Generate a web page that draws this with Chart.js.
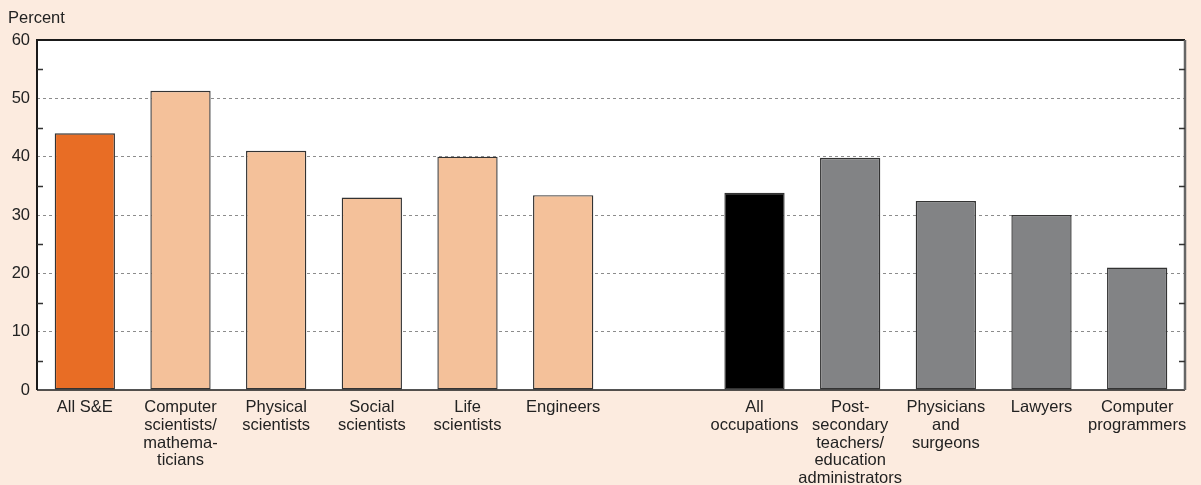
<!DOCTYPE html>
<html>
<head>
<meta charset="utf-8">
<script src="https://cdn.jsdelivr.net/npm/chart.js@4/dist/chart.umd.min.js"></script>
<style>
  html, body { margin: 0; padding: 0; background: #fcebdf; }
  #wrap { width: 1201px; height: 485px; position: relative; }
</style>
</head>
<body>
<div id="wrap"><canvas id="myChart" width="1201" height="485"></canvas></div>
<script>
// categories (empty slot separates the two groups)
const categories = [
  'All S&E',
  ['Computer', 'scientists/', 'mathema-', 'ticians'],
  ['Physical', 'scientists'],
  ['Social', 'scientists'],
  ['Life', 'scientists'],
  'Engineers',
  '',
  ['All', 'occupations'],
  ['Post-', 'secondary', 'teachers/', 'education', 'administrators'],
  ['Physicians', 'and', 'surgeons'],
  'Lawyers',
  ['Computer', 'programmers']
];
const percentValues = [44.0, 51.3, 41.0, 33.0, 40.0, 33.4, null, 33.8, 39.8, 32.4, 30.0, 21.0];
const barColors = ['#e86d25', '#f4c19a', '#f4c19a', '#f4c19a', '#f4c19a', '#f4c19a', '#ffffff',
                   '#000000', '#828385', '#828385', '#828385', '#828385'];
const yTicks = [0, 10, 20, 30, 40, 50, 60];
const minorTicks = [5, 15, 25, 35, 45, 55];

const FONT = '"Liberation Sans", Arial, sans-serif';

const frame = {
  id: 'frame',
  beforeDraw(chart) {
    const { ctx, chartArea: a } = chart;
    ctx.save();
    ctx.fillStyle = '#fcebdf';
    ctx.fillRect(0, 0, chart.width, chart.height);
    ctx.fillStyle = '#ffffff';
    ctx.fillRect(a.left, a.top, a.right - a.left, a.bottom - a.top);
    ctx.restore();
  },
  afterDraw(chart) {
    const { ctx, chartArea: a } = chart;
    const y = chart.scales.y;
    ctx.save();
    // frame
    ctx.strokeStyle = '#1a1a1a';
    ctx.lineWidth = 2;
    ctx.beginPath();
    ctx.moveTo(a.left, a.bottom);
    ctx.lineTo(a.left, a.top);
    ctx.lineTo(a.right, a.top);
    ctx.stroke();
    ctx.lineWidth = 1.5;
    ctx.beginPath();
    ctx.moveTo(a.left, a.bottom);
    ctx.lineTo(a.right, a.bottom);
    ctx.stroke();
    ctx.strokeStyle = '#666666';
    ctx.lineWidth = 2.5;
    ctx.beginPath();
    ctx.moveTo(a.right, a.top);
    ctx.lineTo(a.right, a.bottom);
    ctx.stroke();
    // minor ticks inside both sides
    ctx.strokeStyle = '#333333';
    ctx.lineWidth = 1.5;
    minorTicks.forEach(v => {
      const py = Math.round(y.getPixelForValue(v)) + 0.5;
      ctx.beginPath();
      ctx.moveTo(a.left, py); ctx.lineTo(a.left + 6, py);
      ctx.moveTo(a.right, py); ctx.lineTo(a.right - 6, py);
      ctx.stroke();
    });
    // axis title
    ctx.fillStyle = '#222222';
    ctx.font = '16.5px ' + FONT;
    ctx.textBaseline = 'alphabetic';
    ctx.textAlign = 'left';
    ctx.fillText('Percent', 8, 23);
    ctx.restore();
  }
};

new Chart(document.getElementById('myChart'), {
  type: 'bar',
  data: {
    labels: categories,
    datasets: [{
      label: 'Percent',
      data: percentValues,
      backgroundColor: barColors,
      borderColor: '#333333',
      borderWidth: 1.4,
      borderSkipped: false,
      barPercentage: 0.63,
      categoryPercentage: 1.0
    }]
  },
  options: {
    responsive: false,
    animation: false,
    events: [],
    layout: { padding: { top: 40, right: 16, left: 0, bottom: 0 } },
    plugins: { legend: { display: false }, tooltip: { enabled: false } },
    scales: {
      x: {
        grid: { display: false, drawTicks: false },
        border: { display: false },
        ticks: {
          color: '#222222',
          font: { family: FONT, size: 16.5, lineHeight: 1.07 },
          padding: 9,
          maxRotation: 0,
          autoSkip: false
        },
        afterFit(scale) { scale.height = 95; }
      },
      y: {
        min: 0,
        max: 60,
        afterBuildTicks(scale) { scale.ticks = yTicks.map(v => ({ value: v })); },
        grid: {
          drawTicks: false,
          color: ctx => (ctx.tick && (ctx.tick.value === 0 || ctx.tick.value === 60)) ? 'rgba(0,0,0,0)' : '#8c8c8c',
          lineWidth: 1
        },
        border: { display: false, dash: [3, 3] },
        ticks: {
          color: '#222222',
          font: { family: FONT, size: 16.5 },
          padding: 7
        },
        afterFit(scale) { scale.width = 37; }
      }
    }
  },
  plugins: [frame]
});
</script>
</body>
</html>
